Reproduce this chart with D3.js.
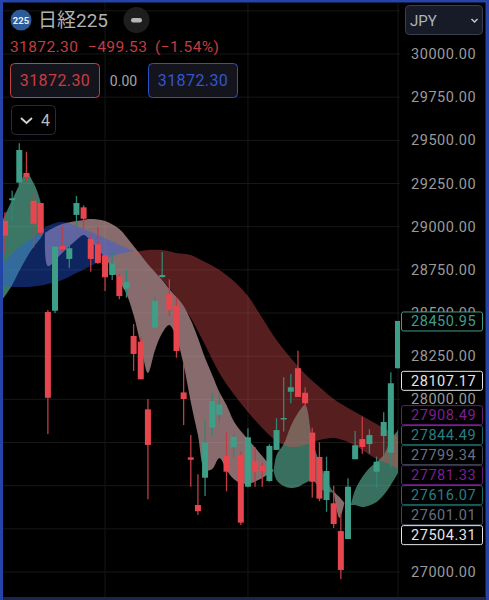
<!DOCTYPE html>
<html>
<head>
<meta charset="utf-8">
<script src="https://cdn.jsdelivr.net/npm/d3@7/dist/d3.min.js"></script>
<style>
  html, body { margin: 0; background: #000; overflow: hidden; }
  text { font-family: 'Roboto', 'Noto Sans CJK JP', sans-serif; }
</style>
</head>
<body>
<div id="chart-area"></div>
<script>
    var width = 489;
    var height = 600;

    // candles, one entry per session
    const opens  = [29033,29153,29255,29311,29150,29137,28506,28513,28888,28813,29068,29112,28929,28898,28834,28720,28713,28641,28367,28334,27942,28415,28708,28610,28541,28040,27664,27388,27546,27836,27911,27674,27722,27678,27494,27641,27614,27527,27707,27884,28044,28180,28038,27807,27666,27417,27398,27237,27191,27653,27770,27741,27581,27788,27691,28180];
    const closes = [28948,29164,29444,29289,29017,28965,28009,28884,28869,28875,29137,29046,28813,28790,28707,28786,28598,28680,28263,28116,27736,28570,28720,28517,28280,28002,27650,27352,27749,27990,27971,27581,27784,27286,27780,27581,27585,27730,27822,27892,28070,28014,27977,27523,27425,27585,27278,27012,27494,27734,27724,27793,27639,27869,28093,28454];
    const highs  = [29083,29208,29483,29434,29199,29137,28517,28894,29006,28936,29178,29124,28952,29000,28836,28852,28724,28749,28436,28363,28002,28594,28853,28695,28587,28205,27793,27566,27880,28035,28035,27809,27797,27701,27832,27722,27633,27740,27890,28128,28147,28282,28070,27836,27751,27668,27500,27342,27543,27817,27899,27826,27668,27925,28157,28454];
    const lows   = [28842,29029,29237,29266,28880,28946,27799,28500,28859,28762,28996,28991,28739,28784,28627,28691,28579,28589,28164,28116,27421,28413,28704,28484,28241,27851,27494,27330,27440,27789,27865,27467,27664,27272,27491,27494,27494,27523,27707,27813,27977,28014,27948,27430,27410,27349,27255,26958,27191,27653,27685,27685,27485,27660,27604,28180];

    // moving average ribbons, session index with upper and lower price
    const greenIdx = [-0.7,0,1,2,3,4,5,5.4];
    const greenUp  = [29010,29067,29154,29241,29311,29253,29137,28963];
    const greenLow = [28564,28598,28662,28743,28819,28882,28934,28963];

    const blueIdx = [-0.7,0,1,2,3,4,5,6,8,10,12,14,16,18];
    const blueUp  = [28772,28795,28842,28882,28911,28940,28975,29004,29027,29004,28969,28934,28894,28859];
    const blueLow = [28656,28656,28651,28651,28651,28654,28659,28668,28691,28732,28772,28813,28842,28859];

    const pinkIdx = [5.6,6,8,10,11,12,14,16,17,18,19,20,21,22,23,24,25,26,27,28,29,30,31,32,33,34,36,37,37.6];
    const pinkUp  = [28963,28975,29015,29033,29039,29044,29033,28986,28940,28888,28836,28784,28737,28691,28639,28593,28541,28459,28355,28239,28141,28042,27967,27875,27817,27770,27672,27620,27585];
    const pinkLow = [28963,28772,28848,28923,28952,28917,28819,28685,28610,28488,28315,28153,28286,28384,28431,28355,28199,27985,27793,27591,27597,27660,27591,27539,27515,27510,27544,27573,27585];

    const redIdx = [18,19,20,22,24,26,28,30,32,34,36,38,40,42,44,46,48,50,52,54,55];
    const redUp  = [28853,28859,28865,28865,28848,28836,28795,28749,28685,28598,28471,28344,28239,28147,28071,28002,27950,27903,27857,27811,27782];
    const redLow = [28853,28830,28784,28691,28593,28471,28315,28153,28031,27927,27834,27759,27724,27736,27764,27776,27753,27707,27654,27620,27597];

    const tealIdx = [37.6,38,39,40,41,42,43,44,45,46,46.6];
    const tealUp  = [27585,27678,27741,27846,27921,27967,27764,27637,27533,27463,27446];
    const tealLow = [27585,27533,27498,27486,27492,27515,27533,27486,27463,27458,27446];

    const sliverIdx = [46,46.8,47.5];
    const sliverUp  = [27463,27434,27400];
    const sliverLow = [27463,27313,27400];

    const teal2Idx = [48.4,49,50,51,52,53,54,55];
    const teal2Up  = [27388,27475,27550,27602,27637,27678,27764,27822];
    const teal2Low = [27388,27388,27376,27385,27405,27446,27504,27573];

    // axis
    const gridTicks = [30250,30000,29750,29500,29250,29000,28750,28500,28250,28000,27750,27500,27250,27000];
    const hiddenTicks = [30250,27750,27500,27250];
    const gridSessions = [14,34,55];

    // price tags at the right
    const tagValues = [28450.95,28107.17,27908.49,27844.49,27799.34,27781.33,27616.07,27601.01,27504.31];
    const tagKinds  = ['last','white','purple','teal','grey','purple','teal','grey','white'];

    const tagColors = {
      last:   { stroke: '#3d9e8a', text: '#3d9e8a' },
      white:  { stroke: '#e6e6e6', text: '#e6e6e6' },
      purple: { stroke: '#6b1a7d', text: '#7f1d91' },
      teal:   { stroke: '#1d6a6a', text: '#267f80' },
      grey:   { stroke: '#424a58', text: '#667080' }
    };

    const upColor = '#3f9e88';
    const downColor = '#e8464e';

    var svg = d3.select('#chart-area')
      .append('svg')
      .attr('width', width)
      .attr('height', height)
      .style('display', 'block');

    svg.append('rect').attr('width', width).attr('height', height).attr('fill', '#000');

    var xScale = d3.scaleLinear().domain([0, 55]).range([5, 398]);
    var yScale = d3.scaleLinear().domain([30000, 27000]).range([54, 572]);

    svg.append('clipPath').attr('id', 'plot')
      .append('rect').attr('x', 3).attr('y', 3).attr('width', 397).attr('height', 594);

    const plot = svg.append('g').attr('clip-path', 'url(#plot)');

    // grid
    plot.selectAll('.h-grid').data(gridTicks).enter().append('line')
      .attr('x1', 0).attr('x2', 400)
      .attr('y1', (d) => { return yScale(d); })
      .attr('y2', (d) => { return yScale(d); })
      .attr('stroke', '#171717');
    plot.selectAll('.v-grid').data(gridSessions).enter().append('line')
      .attr('x1', (d) => { return xScale(d); })
      .attr('x2', (d) => { return xScale(d); })
      .attr('y1', 0).attr('y2', height)
      .attr('stroke', '#171717');

    function drawBand(idx, up, low, color, alpha) {
      const rows = idx.map((d, i) => { return { i: d, up: up[i], low: low[i] }; });
      const area = d3.area()
        .curve(d3.curveCatmullRom.alpha(0.5))
        .x((d) => { return xScale(d.i); })
        .y0((d) => { return yScale(d.low); })
        .y1((d) => { return yScale(d.up); });
      plot.append('path').datum(rows)
        .attr('d', area)
        .attr('fill', color)
        .attr('fill-opacity', alpha);
    }

    drawBand(greenIdx, greenUp, greenLow, '#67cbad', 0.58);
    drawBand(tealIdx, tealUp, tealLow, '#67cbad', 0.55);
    drawBand(teal2Idx, teal2Up, teal2Low, '#67cbad', 0.55);
    drawBand(pinkIdx, pinkUp, pinkLow, '#ebb9bb', 0.58);
    drawBand(sliverIdx, sliverUp, sliverLow, '#ebb9bb', 0.58);
    drawBand(redIdx, redUp, redLow, '#e14e50', 0.39);
    drawBand(blueIdx, blueUp, blueLow, '#255cf0', 0.4);

    // candles
    const candles = plot.selectAll('.candle').data(opens).enter().append('g').attr('class', 'candle');
    candles.append('line')
      .attr('x1', (d, i) => { return xScale(i); })
      .attr('x2', (d, i) => { return xScale(i); })
      .attr('y1', (d, i) => { return yScale(highs[i]); })
      .attr('y2', (d, i) => { return yScale(lows[i]); })
      .attr('stroke-width', 1.3)
      .attr('stroke', (d, i) => { return closes[i] >= d ? '#328574' : '#c23c44'; });
    candles.append('rect')
      .attr('x', (d, i) => { return xScale(i) - 3; })
      .attr('width', 6)
      .attr('y', (d, i) => { return yScale(Math.max(d, closes[i])); })
      .attr('height', (d, i) => { return Math.max(1.5, Math.abs(yScale(d) - yScale(closes[i]))); })
      .attr('fill', (d, i) => { return closes[i] >= d ? upColor : downColor; });

    // price axis
    const yAxisCall = d3.axisRight(yScale)
      .tickValues(gridTicks)
      .tickSize(0)
      .tickPadding(0)
      .tickFormat((d) => { return hiddenTicks.indexOf(d) >= 0 ? '' : d3.format('.2f')(d); });
    const yAxis = svg.append('g')
      .attr('transform', 'translate(411,0)')
      .call(yAxisCall);
    yAxis.select('.domain').remove();
    yAxis.selectAll('text')
      .attr('fill', '#9a9a9a')
      .attr('font-size', '14.5px')
      .style('letter-spacing', '0.55px');

    // tags get pushed down so they do not overlap
    var lastY = -100;
    tagValues.forEach((v, i) => {
      var ty = yScale(v);
      if (ty < lastY + 20) ty = lastY + 20;
      lastY = ty;
      const c = tagColors[tagKinds[i]];
      svg.append('rect')
        .attr('x', 401.5).attr('y', ty - 9.5)
        .attr('width', 81).attr('height', 19)
        .attr('rx', 2)
        .attr('fill', '#000')
        .attr('stroke', c.stroke);
      svg.append('text')
        .attr('x', 411).attr('y', ty + 5)
        .attr('fill', c.text)
        .attr('font-size', '14.5px')
        .style('letter-spacing', '0.55px')
        .text(d3.format('.2f')(v));
    });

    // header
    svg.append('circle').attr('cx', 21).attr('cy', 20).attr('r', 10.5).attr('fill', '#2b5c99');
    svg.append('text').attr('x', 21).attr('y', 23.5).attr('text-anchor', 'middle')
      .attr('fill', '#e8eef5').attr('font-size', '9.5px').attr('font-weight', 700).text('225');
    svg.append('text').attr('x', 38).attr('y', 27)
      .attr('fill', '#b2b2b2').attr('font-size', '19px').text('日経225');
    svg.append('circle').attr('cx', 136.5).attr('cy', 20).attr('r', 13).attr('fill', '#1e1e1e');
    svg.append('rect').attr('x', 131).attr('y', 18).attr('width', 11).attr('height', 4.5).attr('rx', 2.2).attr('fill', '#b5b5b5');

    const quote = svg.append('text').attr('y', 52)
      .attr('fill', '#c43c42').attr('font-size', '15.5px').style('letter-spacing', '0.4px');
    quote.append('tspan').attr('x', 10).text('31872.30');
    quote.append('tspan').attr('x', 88).text('−499.53');
    quote.append('tspan').attr('x', 155).text('(−1.54%)');

    function valueBox(x, stroke, color) {
      svg.append('rect')
        .attr('x', x + 0.5).attr('y', 63.5).attr('width', 89).attr('height', 34).attr('rx', 4)
        .attr('fill', '#14141c').attr('stroke', stroke);
      svg.append('text').attr('x', x + 45).attr('y', 86).attr('text-anchor', 'middle')
        .attr('fill', color).attr('font-size', '16px').style('letter-spacing', '0.4px').text('31872.30');
    }
    valueBox(10, '#c44048', '#c83c44');
    valueBox(148, '#2f50c4', '#3555cc');
    svg.append('text').attr('x', 123.5).attr('y', 85.5).attr('text-anchor', 'middle')
      .attr('fill', '#a5a5a5').attr('font-size', '14px').text('0.00');

    svg.append('rect').attr('x', 11.5).attr('y', 105.5).attr('width', 44).attr('height', 29).attr('rx', 4)
      .attr('fill', '#000').attr('stroke', '#2b2b33');
    svg.append('path').attr('d', 'M21,118 L26.5,123 L32,118').attr('fill', 'none').attr('stroke', '#d5d5d5').attr('stroke-width', 1.8);
    svg.append('text').attr('x', 41).attr('y', 126).attr('fill', '#bbbbbb').attr('font-size', '16px').text('4');

    svg.append('rect').attr('x', 405.5).attr('y', 5.5).attr('width', 77).attr('height', 29).attr('rx', 4)
      .attr('fill', '#171a27').attr('stroke', '#3a3f50');
    svg.append('text').attr('x', 410).attr('y', 25.5).attr('fill', '#aeb4bd').attr('font-size', '15px').text('JPY');
    svg.append('path').attr('d', 'M471.5,19 L474.5,22 L477.5,19').attr('fill', 'none').attr('stroke', '#c5c8cf').attr('stroke-width', 1.5);

    // window frame
    svg.append('rect').attr('x', 0).attr('y', 0).attr('width', 3).attr('height', height).attr('fill', '#2444a8');
    svg.append('rect').attr('x', 0).attr('y', 0).attr('width', width).attr('height', 2.5).attr('fill', '#2444a8');
    svg.append('rect').attr('x', 485.5).attr('y', 0).attr('width', 3.5).attr('height', height).attr('fill', '#2444a8');
    svg.append('rect').attr('x', 3).attr('y', 597).attr('width', 482.5).attr('height', 3).attr('fill', '#1b2550');
</script>
</body>
</html>
